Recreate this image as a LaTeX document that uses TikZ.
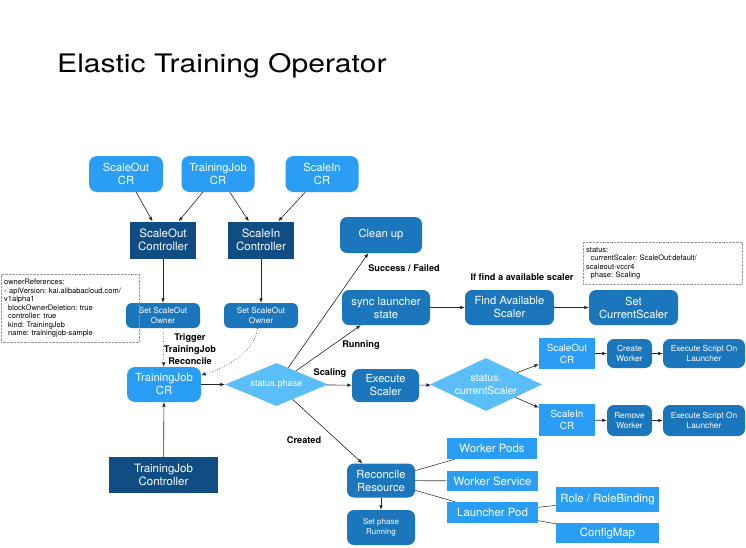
\documentclass[tikz,border=0pt]{standalone}
\usepackage{fontspec}
\setmainfont{TeX Gyre Heros}
\usetikzlibrary{shapes.geometric,arrows.meta}
\definecolor{lblue}{HTML}{2A9DF4}
\definecolor{dblue}{HTML}{1C76BC}
\definecolor{ddblue}{HTML}{0F4D82}
\definecolor{diablue}{HTML}{5BBEF8}
\newcommand{\fsz}[2]{\fontsize{#1}{#2}\selectfont}
\frenchspacing
\begin{document}
\begin{tikzpicture}[x=1pt,y=-1pt,
  base/.style={text=white, align=center, inner sep=0pt},
  lcr/.style={base, fill=lblue, rounded corners=8pt, font=\fsz{11.2}{13}},
  ctrl/.style={base, fill=ddblue, font=\fsz{11.5}{13.5}},
  drr/.style={base, fill=dblue, rounded corners=7pt, font=\fsz{11.2}{13}},
  drs/.style={base, fill=dblue, rounded corners=7pt, font=\fsz{8.2}{10}},
  sq/.style={base, fill=lblue, font=\fsz{11.4}{13}},
  dia/.style={base, diamond, fill=diablue},
  lbl/.style={font=\bfseries\fsz{9.2}{12}, align=center, inner sep=0pt},
  arr/.style={draw=black!85, line width=0.6pt, -{Latex[length=4.5pt,width=3.6pt]}},
  ln/.style={draw=black!75, line width=0.6pt},
  note/.style={draw=gray!80, densely dotted, align=left, inner sep=3pt, font=\fsz{7.5}{8.5}\frenchspacing, anchor=north west, text=black}
]
\fill[white] (0,0) rectangle (746,547);
\useasboundingbox (0,0) rectangle (746,547);

\node[anchor=base west, inner sep=0pt, font=\fsz{25.5}{30}] (title) at (57,72) {\scalebox{1.18}[1]{Elastic Training Operator}};

% top row
\node[lcr, minimum width=74pt, minimum height=36pt] (scoCR) at (126,174) {ScaleOut\\CR};
\node[lcr, minimum width=73pt, minimum height=36pt] (tjCRt) at (218,174) {TrainingJob\\CR};
\node[lcr, minimum width=73pt, minimum height=36pt] (sciCR) at (322,174) {ScaleIn\\CR};
\node[ctrl, minimum width=66pt, minimum height=37pt] (scoCtrl) at (163,240) {ScaleOut\\Controller};
\node[ctrl, minimum width=66pt, minimum height=37pt] (sciCtrl) at (261,240) {ScaleIn\\Controller};
\node[drs, rounded corners=6pt, minimum width=74pt, minimum height=25pt] (ownL) at (163,315.5) {Set ScaleOut\\Owner};
\node[drs, rounded corners=6pt, minimum width=74pt, minimum height=25pt] (ownR) at (261,315.5) {Set ScaleOut\\Owner};
\node[note, text width=132pt, minimum height=68pt] (oref) at (1,274) {ownerReferences:\\- apiVersion: kai.alibabacloud.com/\\v1alpha1\\\hspace*{4pt}blockOwnerDeletion: true\\\hspace*{4pt}controller: true\\\hspace*{4pt}kind: TrainingJob\\\hspace*{4pt}name: trainingjob-sample};

% middle
\node[lcr, minimum width=74pt, minimum height=35pt] (tjCR) at (164,384.5) {TrainingJob\\CR};
\node[ctrl, minimum width=109pt, minimum height=36pt] (tjCtrl) at (163.5,475) {TrainingJob\\Controller};
\node[dia, minimum width=103pt, minimum height=43pt, aspect=2.4, font=\fsz{9.2}{11}] (phase) at (276.5,384.5) {status.phase};

\node[drr, minimum width=82pt, minimum height=36pt] (clean) at (381,235) {Clean up};
\node[drr, minimum width=88pt, minimum height=35pt] (sync) at (386,307.5) {sync launcher\\state};
\node[drr, minimum width=89pt, minimum height=35pt] (find) at (509.5,307.5) {Find Available\\Scaler};
\node[drr, minimum width=89pt, minimum height=35pt] (setcur) at (633.5,307.5) {Set\\CurrentScaler};
\node[note, text width=153pt, minimum height=42pt] (sbox) at (583,242) {status:\\\hspace*{4.5pt}currentScaler: ScaleOut:default/\\scaleout-vccr4\\\hspace*{4.5pt}phase: Scaling};

\node[drr, minimum width=67pt, minimum height=33pt] (exec) at (385.5,385.5) {Execute\\Scaler};
\node[dia, minimum width=112pt, minimum height=53pt, aspect=2.11, font=\fsz{10.5}{12.5}] (cur) at (486,384.5) {status.\\currentScaler};

\node[sq, minimum width=56pt, minimum height=31pt, font=\fsz{9.8}{12}] (scoCR2) at (567,353.5) {ScaleOut\\CR};
\node[sq, minimum width=56pt, minimum height=32pt, font=\fsz{9.8}{12}] (sciCR2) at (567,420) {ScaleIn\\CR};
\node[drs, font=\fsz{8.3}{10}, minimum width=45pt, minimum height=29pt] (create) at (629.5,353.5) {Create\\Worker};
\node[drs, font=\fsz{8.3}{10}, minimum width=82pt, minimum height=29pt] (execL1) at (704,353.5) {Execute Script On\\Launcher};
\node[drs, font=\fsz{8.3}{10}, minimum width=45pt, minimum height=31pt] (remove) at (629.5,420.5) {Remove\\Worker};
\node[drs, font=\fsz{8.3}{10}, minimum width=82pt, minimum height=31pt] (execL2) at (704,420.5) {Execute Script On\\Launcher};

% bottom
\node[drr, minimum width=68pt, minimum height=34pt] (recon) at (381,480.5) {Reconcile\\Resource};
\node[drs, font=\fsz{8}{10}, minimum width=68pt, minimum height=35pt] (setph) at (381,527.5) {Set phase\\Running};
\node[sq, minimum width=90pt, minimum height=21pt] (wpods) at (492,448.5) {Worker Pods};
\node[sq, minimum width=91pt, minimum height=20pt] (wserv) at (492.5,481) {Worker Service};
\node[sq, minimum width=91pt, minimum height=21pt] (lpod) at (492.5,512.5) {Launcher Pod};
\node[sq, minimum width=103pt, minimum height=25pt] (role) at (607.5,499.5) {Role / RoleBinding};
\node[sq, minimum width=103pt, minimum height=20pt] (cmap) at (607.5,533) {ConfigMap};

% labels
\node[lbl] (ltrig) at (190,349) {Trigger\\TrainingJob\\Reconcile};
\node[lbl] (lsucc) at (404,268) {Success / Failed};
\node[lbl] (lfind) at (522,277) {If find a available scaler};
\node[lbl] (lrun) at (361,345) {Running};
\node[lbl] (lscal) at (330,373) {Scaling};
\node[lbl] (lcre) at (304,440) {Created};

% connectors
\draw[arr] (scoCR) -- (scoCtrl);
\draw[arr] (tjCRt) -- (scoCtrl);
\draw[arr] (tjCRt) -- (sciCtrl);
\draw[arr] (sciCR) -- (sciCtrl);
\draw[arr] (scoCtrl) -- (ownL);
\draw[arr] (sciCtrl) -- (ownR);
\draw[arr, dotted] (ownL) -- (tjCR);
\draw[arr, dotted] (ownR.-105) .. controls +(-4,24) and +(30,-10) .. (tjCR.14);
\draw[arr] (tjCtrl) -- (tjCR);
\draw[arr] (tjCR) -- (phase);
\draw[arr] (phase) -- (clean);
\draw[arr] (phase) -- (sync);
\draw[arr] (phase) -- (exec);
\draw[arr] (phase) -- (recon);
\draw[arr] (sync) -- (find);
\draw[arr] (find) -- (setcur);
\draw[arr] (exec) -- (cur);
\draw[arr] (cur) -- (scoCR2);
\draw[arr] (cur) -- (sciCR2);
\draw[arr] (scoCR2) -- (create);
\draw[arr] (create) -- (execL1);
\draw[arr] (sciCR2) -- (remove);
\draw[arr] (remove) -- (execL2);
\draw[arr] (recon) -- (setph);
\draw[ln] (recon) -- (wpods);
\draw[ln] (recon) -- (wserv);
\draw[ln] (recon) -- (lpod);
\draw[ln] (lpod) -- (role);
\draw[ln] (lpod) -- (cmap);
\end{tikzpicture}
\end{document}
